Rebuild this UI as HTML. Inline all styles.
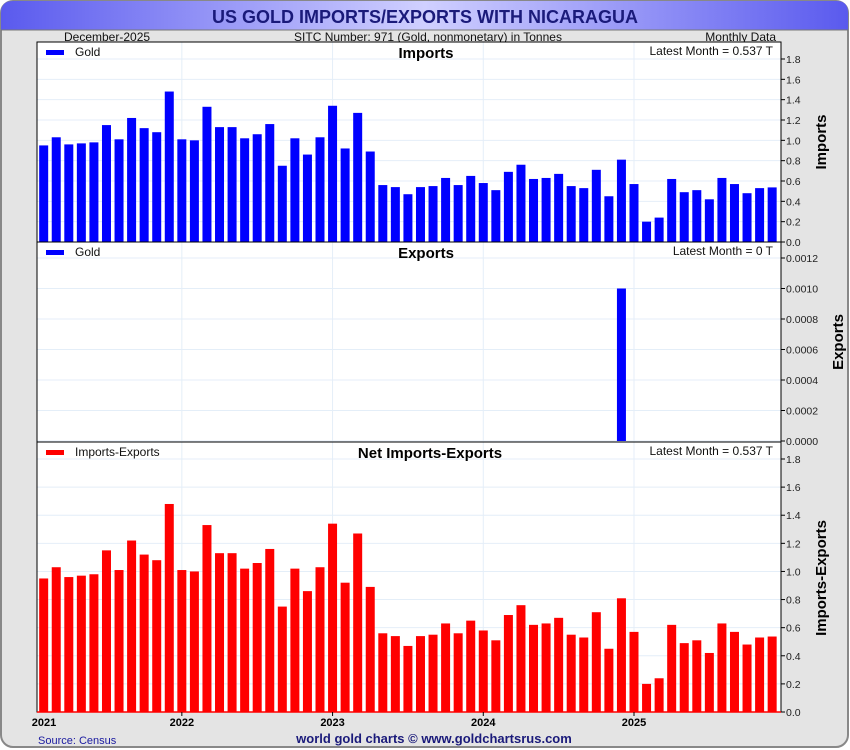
<!DOCTYPE html>
<html><head><meta charset="utf-8"><style>
html,body{margin:0;padding:0;background:#fff;}
svg{display:block;font-family:"Liberation Sans",sans-serif;}
</style></head><body>
<svg id="chart" width="850" height="750" viewBox="0 0 850 750">
<defs>
<linearGradient id="tg" x1="0" x2="1" y1="0" y2="0">
<stop offset="0" stop-color="#5a5aee"/><stop offset="0.5" stop-color="#d0d0ff"/><stop offset="1" stop-color="#5a5aee"/>
</linearGradient>
</defs>
<rect x="1" y="1" width="847" height="746" rx="12" fill="#e4e4e4" stroke="#888" stroke-width="2"/>
<path d="M1,30 L1,13 Q1,1 13,1 L837,1 Q848,1 848,13 L848,30 Z" fill="url(#tg)"/>
<line x1="1" y1="30" x2="848" y2="30" stroke="#777" stroke-width="1"/>
<text x="425" y="23" text-anchor="middle" font-size="18" font-weight="bold" fill="#1a1a7a">US GOLD IMPORTS/EXPORTS WITH NICARAGUA</text>
<text x="64" y="41" font-size="12" fill="#111">December-2025</text>
<text x="428" y="41" text-anchor="middle" font-size="12" fill="#111">SITC Number: 971 (Gold, nonmonetary) in Tonnes</text>
<text x="776" y="41" text-anchor="end" font-size="12" fill="#111">Monthly Data</text>
<g id="panels"></g>
<text x="38" y="744" font-size="11" fill="#1a1aa0">Source: Census</text>
<text x="434" y="743" text-anchor="middle" font-size="13" font-weight="bold" fill="#1a1a7a">world gold charts © www.goldchartsrus.com</text>
</svg>
<script>
const imports = [0.95,1.03,0.96,0.97,0.98,1.15,1.01,1.22,1.12,1.08,1.48,
1.01,1.00,1.33,1.13,1.13,1.02,1.06,1.16,0.75,1.02,0.86,1.03,
1.34,0.92,1.27,0.89,0.56,0.54,0.47,0.54,0.55,0.63,0.56,0.65,
0.58,0.51,0.69,0.76,0.62,0.63,0.67,0.55,0.53,0.71,0.45,0.81,
0.57,0.20,0.24,0.62,0.49,0.51,0.42,0.63,0.57,0.48,0.53,0.537];
const exportsVals = [0,0,0,0,0,0,0,0,0,0,0,
0,0,0,0,0,0,0,0,0,0,0,0,
0,0,0,0,0,0,0,0,0,0,0,0,
0,0,0,0,0,0,0,0,0,0,0,0.001,
0,0,0,0,0,0,0,0,0,0,0,0];
const firstMonth = 1; // Feb 2021 (month index from Jan 2021)
const yearLabels = ["2021","2022","2023","2024","2025"];
const importTicks = [0,0.2,0.4,0.6,0.8,1.0,1.2,1.4,1.6,1.8];
const exportTicks = [0,0.0002,0.0004,0.0006,0.0008,0.0010,0.0012];
const netTicks = [0,0.2,0.4,0.6,0.8,1.0,1.2,1.4,1.6,1.8];

const NS="http://www.w3.org/2000/svg";
const root=document.getElementById('panels');
const PL=37,PR=781;
function mk(tag,attrs,parent){const e=document.createElementNS(NS,tag);for(const k in attrs)e.setAttribute(k,attrs[k]);(parent||root).appendChild(e);return e;}
function xOf(m){return 634+(m-48)*12.56;}

function panel(o){
  const g=mk('g',{});
  
  
  const y0=o.top,y1=o.bottom;
  const yScale=v=>o.zeroY-(v/o.max)*(o.zeroY-o.maxY);
  mk('rect',{x:PL,y:y0,width:PR-PL,height:y1-y0,fill:'#fff'},g);
  o.ticks.forEach(t=>{const y=yScale(t);mk('line',{x1:PL,x2:PR,y1:y,y2:y,stroke:'#e4eef8','stroke-width':1},g);});
  yearLabels.forEach((l,i)=>{const x=xOf(12*i);if(x>PL+2)mk('line',{x1:x,x2:x,y1:y0,y2:y1,stroke:'#e4eef8','stroke-width':1},g);});
  o.values.forEach((v,i)=>{
    if(v<=0)return;
    const x=xOf(firstMonth+i),y=yScale(v);
    const r=mk('rect',{x:x-4.5,y:y,width:9,height:o.zeroY-y,fill:o.color},g);
    
    
  });
  mk('rect',{x:PL,y:y0,width:PR-PL,height:y1-y0,fill:'none',stroke:'#000','stroke-width':1},g);
  o.ticks.forEach(t=>{
    const y=yScale(t);
    mk('line',{x1:PR,x2:PR+4,y1:y,y2:y,stroke:'#000'},g);
    const tx=mk('text',{x:PR+5,y:y+4,'font-size':10.5,fill:'#222'},g);
    tx.textContent=t.toFixed(o.dec);
    
    
  });
  mk('rect',{x:46,y:y0+8,width:18,height:5,fill:o.color},g);
  const lg=mk('text',{x:75,y:y0+14,'font-size':12,fill:'#111'},g);
  lg.textContent=o.legend;
  
  
  const tt=mk('text',{x:o.titleX,y:y0+16,'text-anchor':'middle','font-size':15,'font-weight':'bold',fill:'#000'},g);
  tt.textContent=o.title;
  
  
  const lm=mk('text',{x:773,y:y0+13,'text-anchor':'end','font-size':12,fill:'#111'},g);
  lm.textContent=o.latest;
  
  
  const at=mk('text',{x:0,y:0,'text-anchor':'middle','font-size':15,'font-weight':'bold',fill:'#000',transform:`translate(${o.axisX},${o.axisY}) rotate(-90)`},g);
  at.textContent=o.axisTitle;
  
  
  return yScale;
}
const net=imports.map((v,i)=>v-exportsVals[i]);
panel({name:'imports',top:42,bottom:242,zeroY:242,maxY:59,max:1.8,ticks:importTicks,dec:1,values:imports,color:'#0000ff',legend:'Gold',title:'Imports',titleX:426,latest:'Latest Month = 0.537 T',axisTitle:'Imports',axisX:826,axisY:142});
panel({name:'exports',top:242,bottom:442,zeroY:441,maxY:258,max:0.0012,ticks:exportTicks,dec:4,values:exportsVals,color:'#0000ff',legend:'Gold',title:'Exports',titleX:426,latest:'Latest Month = 0 T',axisTitle:'Exports',axisX:843,axisY:342});
panel({name:'net',top:442,bottom:712,zeroY:712,maxY:459,max:1.8,ticks:netTicks,dec:1,values:net,color:'#ff0000',legend:'Imports-Exports',title:'Net Imports-Exports',titleX:430,latest:'Latest Month = 0.537 T',axisTitle:'Imports-Exports',axisX:826,axisY:578});
mk('line',{x1:PL,x2:PR,y1:712,y2:712,stroke:'#ff0000','stroke-width':1.5});
yearLabels.forEach((l,i)=>{
  const x=xOf(12*i);
  if(x>PL) mk('line',{x1:x,x2:x,y1:712,y2:716,stroke:'#000'});
  const t=mk('text',{x:Math.max(x,44),y:726,'text-anchor':'middle','font-size':11,'font-weight':'bold',fill:'#000'});
  t.textContent=l;
  
  
});
</script>
</body></html>
